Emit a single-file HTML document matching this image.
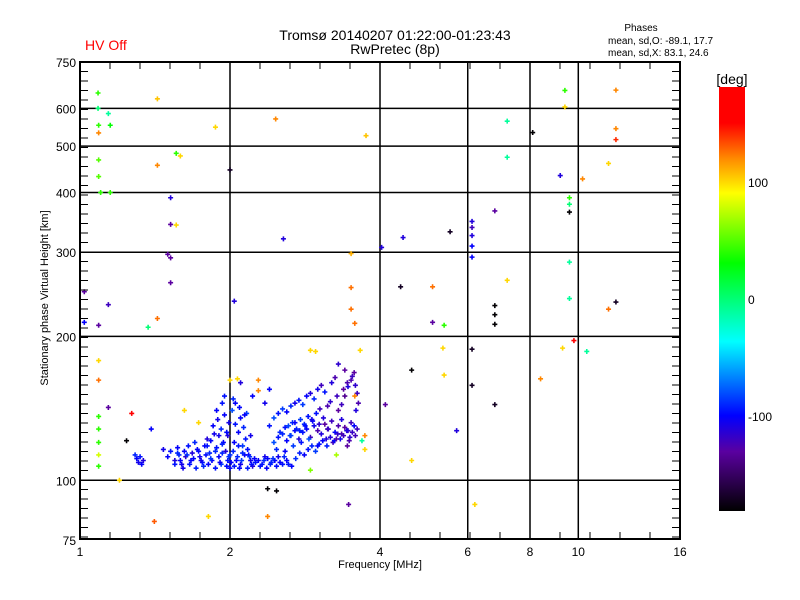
<!DOCTYPE html>
<html><head><meta charset="utf-8"><style>
html,body{margin:0;padding:0;background:#fff;width:800px;height:600px;overflow:hidden}
svg text{font-family:"Liberation Sans",sans-serif;fill:#000}
</style></head><body>
<svg id="chart" width="800" height="600" xmlns="http://www.w3.org/2000/svg">
<defs><linearGradient id="cb" x1="0" y1="0" x2="0" y2="1">
<stop offset="0" stop-color="#ff0000"/><stop offset="0.085" stop-color="#ff0000"/><stop offset="0.17" stop-color="#ff8c00"/><stop offset="0.25" stop-color="#ffff00"/><stop offset="0.415" stop-color="#00ff00"/><stop offset="0.6" stop-color="#00ffff"/><stop offset="0.775" stop-color="#0000ff"/><stop offset="0.86" stop-color="#5a00a0"/><stop offset="1" stop-color="#000000"/>
</linearGradient></defs>
<text x="395" y="40" font-size="14" text-anchor="middle">Tromsø 20140207 01:22:00-01:23:43</text>
<text x="395" y="54" font-size="14" text-anchor="middle">RwPretec (8p)</text>
<text x="85" y="50" font-size="14" fill="#ff0000" style="fill:#ff0000">HV Off</text>
<text x="641" y="31" font-size="10" text-anchor="middle">Phases</text>
<text x="608" y="44" font-size="10">mean, sd,O: -89.1, 17.7</text>
<text x="608" y="56" font-size="10">mean, sd,X:  83.1, 24.6</text>
<g id="grid"></g>
<g id="pts"></g>
<rect x="80" y="62" width="600" height="477" fill="none" stroke="#000" stroke-width="2"/>
<g id="ticks"></g>
<text x="380" y="568" font-size="11" text-anchor="middle">Frequency [MHz]</text>
<text transform="translate(48,298) rotate(-90)" font-size="11" text-anchor="middle">Stationary phase Virtual Height [km]</text>
<rect x="719" y="87" width="26" height="424" fill="url(#cb)"/>
<text x="732" y="84" font-size="14" text-anchor="middle">[deg]</text>
<g id="cbl"></g>
</svg>
<script>
const freqs=[1.30,1.31,1.32,1.33,1.34,1.29,1.47,1.50,1.52,1.55,1.57,1.58,1.60,1.62,1.63,1.65,1.67,1.68,1.70,1.72,1.74,1.76,1.78,1.80,1.82,1.84,1.86,1.88,1.90,1.92,1.94,1.96,1.98,2.00,1.85,1.89,1.92,1.95,1.98,2.02,2.05,2.08,2.03,2.06,2.10,2.12,2.15,2.18,2.20,2.22,2.25,2.10,2.13,2.16,2.20,2.05,2.28,2.32,2.35,2.38,2.42,2.46,2.50,2.55,2.60,2.45,2.50,2.55,2.60,2.65,2.70,2.75,2.80,2.85,2.90,2.95,3.00,3.05,3.10,3.15,3.20,3.25,3.30,3.35,3.40,3.45,3.50,3.55,
2.45,2.50,2.55,2.60,2.65,2.70,2.75,2.80,2.85,2.90,2.95,3.00,3.05,3.10,3.20,3.25,3.30,3.35,3.40,3.45,3.50,3.55,3.60,3.58,3.62,3.40,3.30,2.40,2.48,2.58,2.68,2.78,2.88,3.00,3.12,3.22,3.35,3.48,3.60,2.35,2.40,1.95,2.10,2.22,
1.55,1.57,1.59,1.61,1.64,1.66,1.69,1.71,1.73,1.75,1.77,1.79,1.81,1.83,1.87,1.91,1.93,1.97,1.99,2.01,2.04,2.07,2.09,2.11,2.14,2.17,2.19,2.21,2.24,1.80,1.83,1.87,1.90,1.93,1.97,2.00,2.04,2.08,2.12,2.17,1.88,1.93,1.99,2.03,2.09,2.14,
2.30,2.34,2.37,2.41,2.44,2.48,2.52,2.57,2.62,2.66,2.71,2.76,2.82,2.87,2.92,2.97,3.02,3.07,3.13,3.18,3.24,3.29,3.33,3.38,3.43,3.47,3.52,3.57,2.62,2.67,2.72,2.77,2.82,2.87,2.93,2.98,3.03,3.08,3.14,3.18,3.28,3.38,3.44,3.52,3.57,2.52,2.58,2.64,2.70,2.76,2.83,2.92,3.02,3.14,3.27,3.44,
1.087,1.087,1.14,1.09,1.15,1.09,1.43,1.87,2.47,3.75,1.09,1.09,1.10,1.15,1.43,1.56,1.59,2.0,1.52,1.52,1.56,1.50,1.52,1.52,1.02,1.14,1.09,1.02,1.37,1.43,2.04,2.56,3.5,3.5,3.5,3.56,4.03,4.45,4.4,5.1,5.1,5.38,5.53,6.12,6.12,6.12,6.12,6.12,6.12,6.12,6.8,6.8,6.8,6.8,6.8,7.2,7.2,7.2,8.1,9.2,9.4,9.4,9.6,9.6,9.6,9.6,9.6,9.8,9.3,10.4,11.5,10.2,11.9,11.9,11.9,11.5,11.9,8.4,6.2,5.7,4.63,4.63,5.35,5.38,4.1,3.65,3.46,2.38,2.38,2.48,1.41,1.81,1.2,1.09,1.09,1.09,1.09,1.09,1.09,1.09,1.14,1.27,1.24,1.39,1.62,1.73,2.0,2.07,2.28,2.28,2.9,2.97,3.73,3.73,3.68,3.27,2.9,3.56,2.65];
const heights=[111,109,112,108,110,113,116,112,115,110,117,113,108,115,112,118,110,114,120,116,112,109,118,122,114,110,125,117,112,108,120,115,110,106,130,134,128,137,124,140,131,126,115,110,108,118,122,113,110,107,109,135,129,138,124,145,110,108,112,111,109,110,112,108,110,120,123,125,121,124,127,122,126,128,123,130,127,125,131,128,133,126,130,134,129,127,132,130,
135,138,141,139,143,145,147,144,150,152,148,155,158,153,160,164,140,144,150,157,162,168,152,140,145,170,175,130,116,115,118,120,122,118,122,120,125,123,128,145,155,150,160,150,
108,114,110,106,113,108,111,106,115,110,107,113,108,111,106,109,114,107,112,109,107,112,106,110,113,106,112,108,111,118,121,115,124,119,126,113,120,118,114,116,140,145,132,148,142,137,
107,110,106,108,111,107,109,112,108,107,111,114,113,116,118,115,119,121,118,123,121,125,122,124,127,121,126,124,130,132,128,134,131,136,133,138,141,135,143,146,150,155,160,165,158,126,129,124,132,127,130,134,131,128,122,118,
646,600,585,553,553,533,628,548,570,526,468,432,400,400,456,483,477,446,390,343,342,297,292,259,248,233,211,214,209,218,237,320,298,253,228,213,307,322,254,254,214,211,331,348,338,325,309,293,188,158,366,232,222,212,144,262,564,474,534,434,654,604,390,378,364,286,240,196,189,186,460,427,655,544,516,228,236,163,89,127,170,110,189,166,144,187,89,84,96,95,82,84,100,107,113,120,128,136,162,178,142,138,121,128,140,132,162,163,162,154,187,186,116,124,121,113,105,150,162];
const phases=[-100,-105,-95,-100,-110,-90,-105,-100,-95,-110,-100,-90,-105,-100,-115,-95,-100,-110,-90,-100,-105,-95,-100,-110,-90,-100,-105,-95,-100,-85,-100,-110,-95,-100,-100,-105,-90,-100,-110,-80,-95,-100,-90,-100,-105,-85,-95,-100,-105,-110,-95,-100,-90,-85,-105,-100,-100,-95,-105,-100,-90,-100,-105,-95,-100,-80,-95,-90,-100,-85,-100,-110,-95,-100,-120,-105,-125,-110,-130,-115,-120,-100,-125,-110,-130,-115,-120,-100,
-80,-95,-85,-100,-90,-105,-95,-85,-100,-110,-90,-105,-120,-95,-110,-125,-130,-120,-135,-110,-125,-130,-120,-110,-125,-130,-115,-95,-90,-100,-85,-95,-80,-100,-110,-120,-125,-115,-120,-105,-100,-95,-110,-100,
-95,-90,-100,-105,-88,-95,-100,-92,-98,-105,-90,-96,-100,-86,-95,-102,-90,-97,-88,-100,-94,-90,-98,-85,-100,-92,-88,-96,-100,-95,-100,-90,-105,-92,-98,-88,-100,-94,-90,-96,-100,-95,-105,-90,-98,-100,
-95,-90,-100,-92,-88,-96,-100,-90,-94,-98,-88,-92,-100,-95,-90,-85,-96,-100,-92,-110,-98,-115,-105,-120,-110,-125,-118,-122,-82,-88,-92,-85,-90,-95,-100,-96,-120,-110,-125,-115,-120,-130,-125,-120,-115,-90,-95,-85,-100,-92,-96,-105,-115,-120,-125,-130,
40,0,-10,40,30,120,105,100,120,105,50,50,40,40,120,40,100,-170,-110,-130,100,-130,-130,-130,-130,-120,-130,-100,0,125,-110,-110,110,125,125,125,-110,-110,-170,125,-130,40,-170,-110,-120,-110,-100,-100,-170,-170,-130,-180,-180,-180,-170,100,-10,-10,-180,-110,40,100,40,0,-180,-10,-10,170,100,-10,100,120,120,120,140,125,-170,120,100,-110,-180,100,100,100,-130,100,-130,120,-180,-180,130,100,100,40,80,40,40,40,125,100,-130,150,-180,-100,100,100,100,100,120,120,100,100,100,120,-10,70,60,120];
const X=f=>80+150*Math.log2(f);
const Y=h=>540-478*Math.log10(h/75);
const NS="http://www.w3.org/2000/svg";
function mk(t,a,p){const e=document.createElementNS(NS,t);for(const k in a)e.setAttribute(k,a[k]);p.appendChild(e);return e;}
const stops=[[180,[255,0,0]],[149,[255,0,0]],[119,[255,140,0]],[90,[255,255,0]],[30,[0,255,0]],[-36,[0,255,255]],[-99,[0,0,255]],[-130,[90,0,160]],[-181,[0,0,0]]];
function col(p){for(let i=0;i<stops.length-1;i++){const a=stops[i],b=stops[i+1];if(p<=a[0]&&p>=b[0]){const t=(a[0]-p)/(a[0]-b[0]);const c=a[1].map((v,j)=>Math.round(v+(b[1][j]-v)*t));return `rgb(${c})`;}}return p>0?'#f00':'#000';}
const grid=document.getElementById('grid');
[100,200,300,400,500,600].forEach(h=>{const l=mk('line',{x1:80,x2:680,y1:Y(h),y2:Y(h),stroke:'#000','stroke-width':1.5},grid);

});
[2,4,6,8,10].forEach(f=>{const l=mk('line',{x1:X(f),x2:X(f),y1:62,y2:539,stroke:'#000','stroke-width':1.5},grid);

});
const tk=document.getElementById('ticks');
for(let x=110;x<680;x+=30){mk('line',{x1:x,x2:x,y1:62,y2:69,stroke:'#000'},tk);mk('line',{x1:x,x2:x,y1:539,y2:532,stroke:'#000'},tk);}
for(let y=62+9.5;y<539;y+=9.5){mk('line',{x1:80,x2:88,y1:y,y2:y,stroke:'#000'},tk);mk('line',{x1:680,x2:672,y1:y,y2:y,stroke:'#000'},tk);}
const yLabels=[75,100,200,300,400,500,600,750];
yLabels.forEach(h=>{const t=mk('text',{x:76,y:Y(h)+5,'font-size':12,'text-anchor':'end'},tk);t.textContent=h;

});
const xLabels=[1,2,4,6,8,10,16];
xLabels.forEach(f=>{const t=mk('text',{x:X(f),y:556,'font-size':12,'text-anchor':'middle'},tk);t.textContent=f;

});
const cbLabels=[100,0,-100];
const cbl=document.getElementById('cbl');
cbLabels.forEach(d=>{const t=mk('text',{x:748,y:300-1.17*d+4,'font-size':12},cbl);t.textContent=d;

});
const pts=document.getElementById('pts');
const n=Math.min(freqs.length,heights.length,phases.length);
for(let i=0;i<n;i++){const x=X(freqs[i]),y=Y(heights[i]),c=col(phases[i]);
const g=mk('path',{d:`M${x-2.5} ${y}H${x+2.5}M${x} ${y-2.5}V${y+2.5}`,stroke:c,'stroke-width':1.6,fill:'none'},pts);

}
</script>
</body></html>
